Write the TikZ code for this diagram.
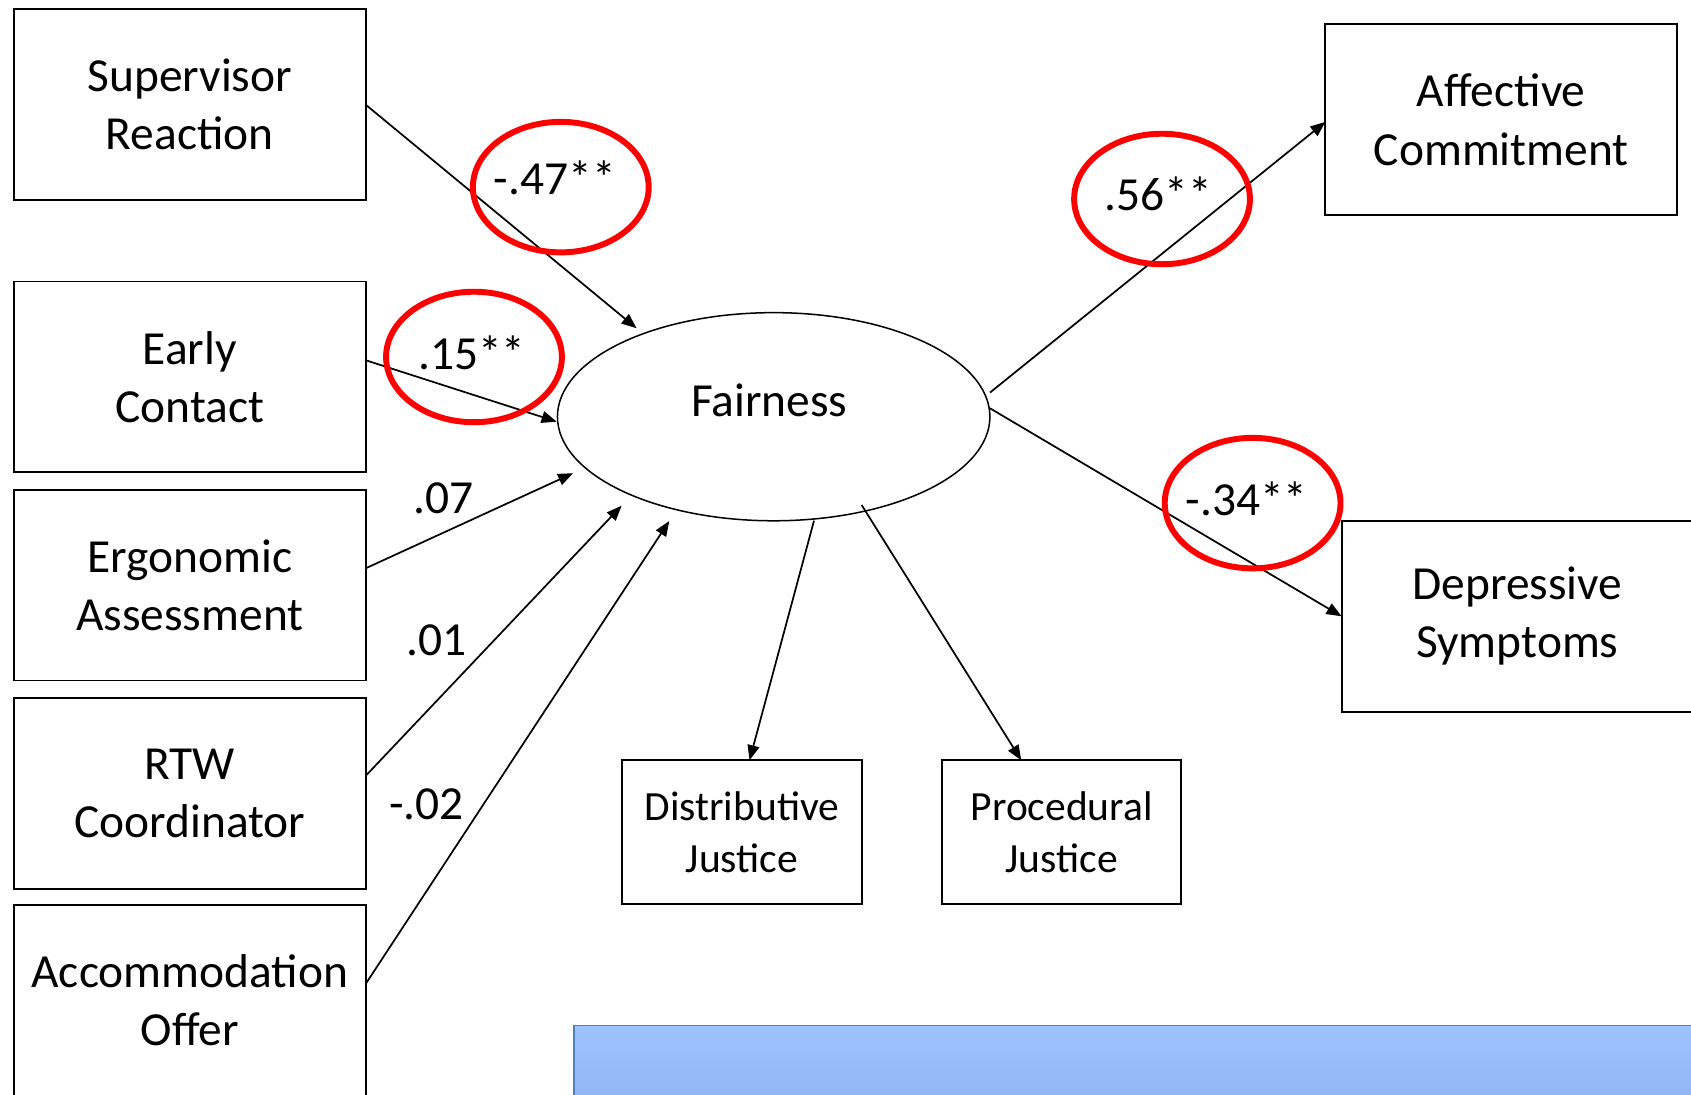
\documentclass[tikz,border=0pt]{standalone}
\usepackage{fontspec}
\setmainfont{Carlito}
\usetikzlibrary{arrows.meta,shapes.geometric}
\definecolor{ringred}{RGB}{255,0,0}
\definecolor{blueTop}{RGB}{157,195,255}
\definecolor{blueBot}{RGB}{139,178,240}
\definecolor{blueEdge}{RGB}{79,129,189}
\begin{document}
\begin{tikzpicture}[x=1pt,y=-1pt,
  bigbox/.style={draw, line width=1.8pt, minimum width=326pt, minimum height=177pt,
    inner sep=0pt, outer sep=0pt, align=center, font=\fontsize{44}{54}\selectfont},
  smallbox/.style={draw, line width=1.8pt, minimum width=222pt, minimum height=133pt,
    inner sep=0pt, outer sep=0pt, align=center, font=\fontsize{38.5}{48}\selectfont},
  latent/.style={draw, ellipse, line width=1.4pt, minimum width=401pt, minimum height=193pt,
    inner sep=0pt, outer sep=0pt, font=\fontsize{44}{53}\selectfont,
    text height=30pt, text depth=30pt},
  conn/.style={line width=1.6pt, -{Triangle[length=14pt,width=11pt]}},
  ring/.style={draw=ringred, line width=5.5pt, ellipse, minimum width=163pt,
    minimum height=121pt, inner sep=0pt},
  coef/.style={font=\fontsize{44}{53}\selectfont, inner sep=0pt}
]
\useasboundingbox (0,0) rectangle (1568,1015);
\clip (0,0) rectangle (1568,1015);
\fill[white] (0,0) rectangle (1568,1015);

% blue panel at the bottom
\path[top color=blueTop, bottom color=blueBot, draw=blueEdge, line width=1.5pt]
  (532,951) rectangle (1620,1040);

% predictor boxes
\node[bigbox] (sup) at (176,97)    {Supervisor\\Reaction};
\node[bigbox] (ec)  at (176,349.5) {Early\\Contact};
\node[bigbox] (erg) at (176,542.5) {Ergonomic\\Assessment};
\node[bigbox] (rtw) at (176,735.5) {RTW\\Coordinator};
\node[bigbox] (acc) at (176,927.5) {Accommodation\\Offer};

% outcome boxes
\node[bigbox] (aff) at (1392,111)   {Affective\\Commitment};
\node[bigbox] (dep) at (1407,571.5) {Depressive\\Symptoms};

% indicator boxes
\node[smallbox] (dj) at (688,771.5)   {Distributive\\Justice};
\node[smallbox] (pj) at (984.5,771.5) {Procedural\\Justice};

% latent variable
\node[latent] (fair) at (717.4,386.4) {Fairness\kern8pt};

% connector ends on the latent variable
\coordinate (tSup) at ([shift={(-127.1,-82)}]fair.center);
\coordinate (tEC)  at ([shift={(-201.2,4.6)}]fair.center);
\coordinate (tErg) at ([shift={(-186,52.4)}]fair.center);
\coordinate (tRTW) at ([shift={(-141,82.5)}]fair.center);
\coordinate (tAcc) at ([shift={(-96.8,96.7)}]fair.center);
\coordinate (sAff) at ([shift={(200.6,-22.4)}]fair.center);
\coordinate (sDep) at ([shift={(200.6,-7.8)}]fair.center);
\coordinate (sDJ)  at ([shift={(37.4,96.4)}]fair.center);
\coordinate (sPJ)  at ([shift={(81.6,81.9)}]fair.center);

% connectors
\draw[conn] (sup.east) -- (tSup);
\draw[conn] ([yshift=15.5pt]ec.east) -- (tEC);
\draw[conn] ([yshift=15.5pt]erg.east) -- (tErg);
\draw[conn] ([yshift=16pt]rtw.east) -- (tRTW);
\draw[conn] ([yshift=15pt]acc.east) -- (tAcc);
\draw[conn] (sAff) -- ([yshift=-2pt]aff.west);
\draw[conn] (sDep) -- (dep.west);
\draw[conn] (sDJ) -- ([xshift=7pt]dj.north);
\draw[conn] (sPJ) -- ([xshift=-37.5pt]pj.north);

% red highlight rings
\node[ring] (r1) at (520,173.5) {};
\node[ring] (r2) at (439.5,331) {};
\node[ring] (r3) at (1077.5,184.5) {};
\node[ring] (r4) at (1161.5,466.5) {};

% coefficients
\node[coef] (c1) at (514.5,165) {-.47**};
\node[coef] (c2) at (437.5,327) {.15**};
\node[coef] (c3) at (1074,180)  {.56**};
\node[coef] (c4) at (1156,463)  {-.34**};
\node[coef] (c5) at (411.6,461.8) {.07};
\node[coef] (c6) at (404.6,594)   {.01};
\node[coef] (c7) at (395.7,746)   {-.02};
\end{tikzpicture}
\end{document}
